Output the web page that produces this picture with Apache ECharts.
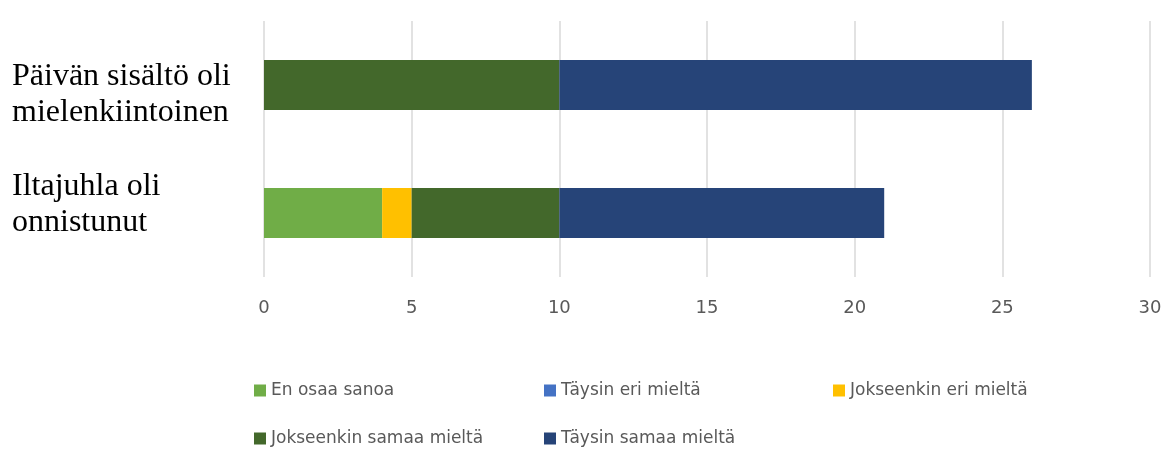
<!DOCTYPE html>
<html lang="fi">
<head>
    <meta charset="UTF-8">
    <title>Palaute</title>
    <script src="https://cdn.jsdelivr.net/npm/echarts@6/dist/echarts.min.js"></script>
    <style>
html, body { margin:0; padding:0; background:#fff; }
#chart { width:1169px; height:450px; }
    </style>
</head>
<body>
<div id="chart"></div>
<script type="text/javascript">
    var categories = ['Päivän sisältö oli\nmielenkiintoinen', 'Iltajuhla oli\nonnistunut'];
    var seriesNames = ['En osaa sanoa', 'Täysin eri mieltä', 'Jokseenkin eri mieltä', 'Jokseenkin samaa mieltä', 'Täysin samaa mieltä'];
    var enOsaa = [0, 4];
    var taysinEri = [0, 0];
    var jokseenkinEri = [0, 1];
    var jokseenkinSamaa = [10, 5];
    var taysinSamaa = [16, 11];
    var colors = ['#70ad47', '#4472c4', '#ffc000', '#43682b', '#264478'];

    var values = [enOsaa, taysinEri, jokseenkinEri, jokseenkinSamaa, taysinSamaa];
    // legend laid out in 3 columns, 2 rows
    var legendCols = [254, 544, 833];
    var legendRows = [382, 430];

    var legends = seriesNames.map(function (name, i) {
        return {
            left: legendCols[i % 3], top: legendRows[Math.floor(i / 3)],
            padding: 0,
            icon: 'rect', itemWidth: 12, itemHeight: 12,
            textStyle: {color: '#595959', fontSize: 17, fontFamily: 'DejaVu Sans'},
            data: [name]
        };
    });

    var myChart = echarts.init(document.getElementById('chart'));
    myChart.setOption({
        animation: false,
        grid: {left: 264, right: 19, top: 21, bottom: 173, outerBoundsMode: 'none'},
        legend: legends,
        xAxis: {
            type: 'value',
            min: 0, max: 30, interval: 5,
            axisLine: {show: false},
            axisTick: {show: false},
            splitLine: {lineStyle: {color: '#d9d9d9', width: 1.5}},
            axisLabel: {color: '#595959', fontSize: 18, fontFamily: 'DejaVu Sans', margin: 22}
        },
        yAxis: {
            type: 'category',
            inverse: true,
            data: categories,
            axisLine: {show: false},
            axisTick: {show: false},
            axisLabel: {
                align: 'left', margin: 252,
                // Excel puts the labels slightly off the bar centres:
                // a blank spacer line above the first, below the second
                formatter: function (value, index) {
                    var lines = value.split('\n').map(function (s) { return '{t|' + s + '}'; });
                    if (index === 0) lines.unshift('{s| }');
                    else lines.push('{u| }');
                    return lines.join('\n');
                },
                rich: {
                    t: {color: '#000', fontSize: 32, lineHeight: 36, fontFamily: 'Liberation Serif'},
                    s: {fontSize: 10, lineHeight: 20},
                    u: {fontSize: 10, lineHeight: 16}
                }
            }
        },
        series: seriesNames.map(function (name, i) {
            return {
                name: name,
                type: 'bar',
                stack: 'total',
                barWidth: '39%',
                itemStyle: {color: colors[i]},
                data: values[i]
            };
        })
    });
</script>
</body>
</html>
